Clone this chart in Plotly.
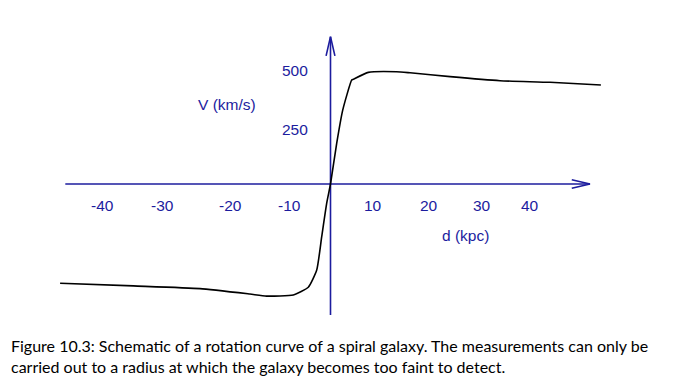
import plotly.graph_objects as go

# Rotation curve (schematic)
d_kpc = [-52.0, -37.9, -25.1, -15.5, -12.3, -7.15, -4.27, -2.65, -1.69, -0.73, 0.0,
         1.19, 2.35, 4.08, 4.38, 7.27, 12.7, 15.3, 23.0, 32.6, 42.2, 52.0]
v_kms = [-439, -451, -463, -487, -496, -491, -457, -381, -233, -85, 0,
         180, 327, 460, 463, 494, 497, 492, 475, 457, 450, 438]

# Tick labels as drawn in the schematic (positions, in kpc)
x_tick_text = ["-40", "-30", "-20", "-10", "10", "20", "30", "40"]
x_tick_pos = [-43.85, -32.3, -19.3, -7.98, 8.23, 18.9, 29.1, 38.4]
y_tick_text = ["500", "250"]
y_tick_pos = [501, 239]

# Axis extents (data units)
x_axis_min, x_axis_max = -51.0, 49.9
y_axis_min, y_axis_max = -580, 652

caption = ("Figure 10.3: Schematic of a rotation curve of a spiral galaxy. The measurements can only be<br>"
           "carried out to a radius at which the galaxy becomes too faint to detect.")

NAVY = "#1c1c9e"
FONT = "Liberation Sans, Arial, sans-serif"

fig = go.Figure()

# x axis with open arrowhead
fig.add_trace(go.Scatter(x=[x_axis_min, x_axis_max], y=[0, 0], mode="lines",
                         line=dict(color=NAVY, width=1.6), hoverinfo="skip"))
fig.add_trace(go.Scatter(x=[x_axis_max - 3.5, x_axis_max, x_axis_max - 3.5], y=[19, 0, -19],
                         mode="lines", line=dict(color=NAVY, width=1.6), hoverinfo="skip"))
# y axis with open arrowhead
fig.add_trace(go.Scatter(x=[0, 0], y=[y_axis_min, y_axis_max], mode="lines",
                         line=dict(color=NAVY, width=1.6), hoverinfo="skip"))
fig.add_trace(go.Scatter(x=[-0.85, 0, 0.85], y=[y_axis_max - 85, y_axis_max, y_axis_max - 85],
                         mode="lines", line=dict(color=NAVY, width=1.6), hoverinfo="skip"))

# rotation curve
fig.add_trace(go.Scatter(x=d_kpc, y=v_kms, mode="lines",
                         line=dict(color="black", width=1.6, shape="spline", smoothing=0.5),
                         hoverinfo="skip"))

annotations = []
for t, p in zip(x_tick_text, x_tick_pos):
    annotations.append(dict(x=p, y=-93, xref="x", yref="y", text=t, showarrow=False,
                            font=dict(family=FONT, size=15.5, color=NAVY)))
for t, p in zip(y_tick_text, y_tick_pos):
    annotations.append(dict(x=-6.9, y=p, xref="x", yref="y", text=t, showarrow=False,
                            font=dict(family=FONT, size=15.5, color=NAVY)))
annotations.append(dict(x=-19.9, y=350, xref="x", yref="y", text="V (km/s)", showarrow=False,
                        font=dict(family=FONT, size=15.5, color=NAVY)))
annotations.append(dict(x=25.9, y=-226, xref="x", yref="y", text="d (kpc)", showarrow=False,
                        font=dict(family=FONT, size=15.5, color=NAVY)))
annotations.append(dict(x=1 / 680, y=1 - 326 / 392, xref="paper", yref="paper", text=caption,
                        showarrow=False, xanchor="left", yanchor="top", align="left",
                        font=dict(family="Lato, sans-serif", size=16, color="black")))

fig.update_layout(
    width=680, height=392,
    margin=dict(l=0, r=0, t=0, b=0),
    paper_bgcolor="white", plot_bgcolor="white",
    showlegend=False,
    xaxis=dict(range=[-62.02, 68.75], visible=False, fixedrange=True),
    yaxis=dict(range=[-955.8, 778.8], visible=False, fixedrange=True),
    annotations=annotations,
)

fig.write_html("out.html")
